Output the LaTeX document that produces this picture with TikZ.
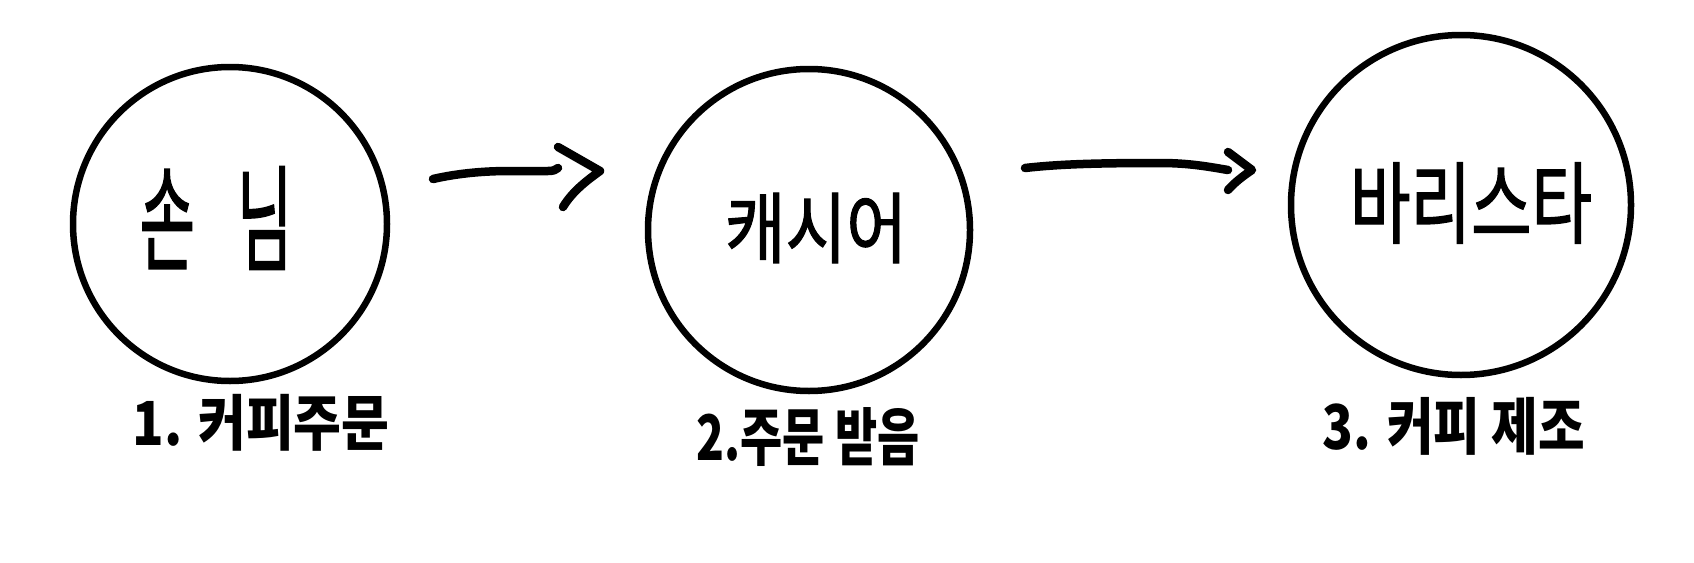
\documentclass[tikz,border=0pt]{standalone}
\usepackage{fontspec}
\newfontfamily\kr{Noto Sans CJK KR}
\newfontfamily\krthick{Noto Sans CJK KR}[FakeBold=1.6]
\usetikzlibrary{calc}
\begin{document}
\begin{tikzpicture}[x=1pt,y=-1pt,
  ring/.style={circle,draw,line width=6.5pt,inner sep=0pt},
  inner/.style={inner sep=0pt},
  steplabel/.style={inner sep=0pt},
  pen/.style={line width=8.5pt,line cap=round,line join=round}]
\useasboundingbox[fill=white] (0,0) rectangle (1694,562);
% circles
\node[ring,minimum size=314pt] (c1) at (230,224) {};
\node[ring,minimum size=322pt] (c2) at (809,230) {};
\node[ring,minimum size=340pt] (c3) at (1461,205) {};
% texts inside circles
\node[inner] (t1) at (216,218) {\resizebox*{153pt}{103pt}{\krthick 손\hspace{0.7em}님}};
\node[inner] (t2) at (816,228) {\resizebox*{182pt}{70pt}{\krthick 캐시어}};
\node[inner] (t3) at (1471,203) {\resizebox*{242pt}{81pt}{\krthick 바리스타}};
% step labels
\node[steplabel] (l1) at (261,423) {\resizebox*{257pt}{57pt}{\kr\bfseries 1. 커피주문}};
\node[steplabel] (l2) at (808,437) {\resizebox*{223pt}{59pt}{\kr\bfseries 2.주문 받음}};
\node[steplabel] (l3) at (1454,426) {\resizebox*{262pt}{58pt}{\kr\bfseries 3. 커피 제조}};
% arrow 1
\coordinate (a1s) at (433,179);
\coordinate (a1e) at (558,168);
\coordinate (h1a) at (558,147);
\coordinate (h1v) at (600,171);
\coordinate (h1b) at (563,207);
\draw[pen] (a1s) .. controls (455,174) and (480,171) .. (510,171) -- (548,171) .. controls (553,171) and (556,170) .. (a1e);
\draw[pen] (h1a) -- (h1v) .. controls (586,181) and (572,192) .. (h1b);
% arrow 2
\coordinate (a2s) at (1025,168);
\coordinate (a2e) at (1228,170);
\coordinate (h2a) at (1228,152);
\coordinate (h2v) at (1252,170);
\coordinate (h2b) at (1228,190);
\draw[pen] (a2s) .. controls (1060,164) and (1100,163) .. (1160,163) .. controls (1190,163) and (1210,167) .. (a2e);
\draw[pen] (h2a) -- (h2v) .. controls (1243,176) and (1234,183) .. (h2b);
\end{tikzpicture}
\end{document}
